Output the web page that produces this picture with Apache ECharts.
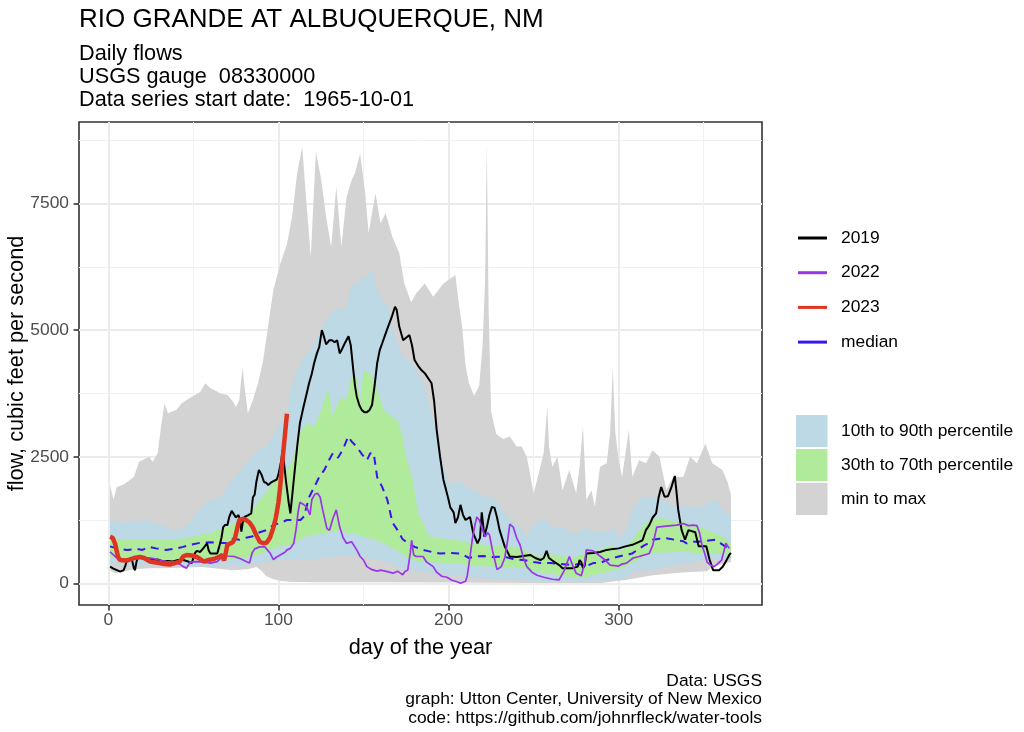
<!DOCTYPE html>
<html>
<head>
<meta charset="utf-8">
<script src="https://cdn.jsdelivr.net/npm/echarts@6/dist/echarts.min.js"></script>
<style>
html,body{margin:0;padding:0;background:#fff;}
#chart{width:1024px;height:732px;}
</style>
</head>
<body>
<div id="chart"></div>
<script>
// ---- data: [day of year, cfs] ----
const flowMax = [[1,1940],[3,1650],[5,1900],[9,1950],[13,2050],[15,2100],[18,2400],[21,2450],[24,2500],[26,2400],[29,2570],[31,3100],[33,3550],[35,3360],[38,3400],[40,3420],[43,3550],[46,3620],[50,3700],[54,3780],[57,3950],[60,3850],[62,3820],[66,3750],[70,3720],[73,3600],[75,3480],[77,3620],[78,4000],[79,4250],[80,3900],[82,3360],[85,3620],[88,3950],[91,4400],[94,5100],[97,5790],[101,6300],[105,6700],[108,7240],[111,8100],[114,8620],[116,7700],[119,6450],[122,8520],[125,8000],[128,7240],[131,6640],[134,7830],[137,6640],[140,7630],[143,7960],[145,8100],[148,8480],[151,7700],[153,6910],[157,7700],[160,7110],[163,7310],[167,6840],[171,6520],[174,5920],[178,5550],[181,5730],[186,5920],[191,5660],[197,5920],[204,6090],[206,5530],[208,5060],[210,4300],[212,3950],[215,3700],[218,3900],[220,4700],[221.5,6000],[222.5,8700],[223.5,5500],[225,3400],[228,2950],[232,2850],[236,2900],[240,2700],[243,2700],[246,2500],[250,1780],[254,2300],[256,2600],[258,3500],[259,2700],[261,2300],[264,2500],[267,1840],[271,2240],[275,1780],[277,2300],[279,3100],[281,1650],[284,1840],[286,1510],[289,2300],[293,2370],[295,3000],[296.5,4250],[298,3000],[300,2430],[302,2100],[306,3030],[308,2100],[312,2430],[316,2370],[320,2630],[324,2500],[328,1840],[332,2100],[338,2100],[342,2500],[346,2370],[351,2760],[355,2370],[361,2240],[364,2000],[366,1750]];

const flowP90 = [[1,1250],[7,1190],[15,1220],[22,1250],[30,1150],[35,1100],[38,1050],[42,1050],[45,1120],[48,1190],[52,1400],[58,1600],[62,1650],[66,1720],[70,1900],[73,2050],[77,2200],[79,2260],[82,2400],[85,2510],[89,2650],[93,2700],[97,2900],[101,3160],[105,3300],[107,3820],[111,4200],[115,4470],[119,4600],[123,4870],[128,5200],[134,5420],[140,5420],[143,5920],[146,5860],[148,6000],[151,6050],[155,6190],[158,5790],[162,5530],[165,5460],[167,5000],[173,4470],[179,4340],[185,3950],[188,3600],[191,3220],[194,2800],[197,2300],[201,1900],[203,2000],[207,2000],[211,1880],[217,1800],[222,1710],[226,1700],[230,1510],[234,1350],[238,1190],[242,1100],[246,920],[250,1150],[254,1250],[257,1250],[261,1110],[267,1100],[273,990],[277,1000],[281,1110],[285,1000],[289,1050],[293,1000],[297,1100],[300,920],[304,990],[308,1450],[312,1650],[315,1710],[320,1710],[326,1650],[332,1510],[338,1550],[344,1480],[348,1510],[352,1580],[357,1650],[360,1510],[363,1400],[366,1330]];

const flowP70 = [[1,920],[5,880],[10,860],[20,860],[30,860],[40,870],[48,900],[54,960],[60,1000],[64,1050],[70,1110],[77,1250],[81,1350],[85,1450],[89,1650],[93,1800],[97,2000],[101,2100],[105,2250],[108,2400],[111,2700],[113,3000],[117,3160],[121,3100],[125,3400],[129,3850],[132,3300],[136,3650],[140,3650],[143,4080],[146,4080],[148,3600],[150,4200],[154,4140],[158,3820],[162,3420],[166,3300],[170,3230],[173,2900],[175,2500],[179,2050],[182,1400],[185,1190],[188,950],[191,920],[197,880],[203,860],[209,820],[214,790],[220,760],[228,730],[235,730],[242,700],[248,600],[254,520],[260,580],[267,540],[273,500],[278,560],[283,640],[289,650],[293,720],[297,730],[300,620],[304,700],[308,850],[312,1050],[316,1190],[320,1250],[324,1300],[328,1250],[333,1230],[338,1230],[343,1150],[348,1110],[352,1050],[357,990],[361,920],[366,790]];

const flowMedian = [[1,730],[6,680],[11,660],[17,680],[20,660],[24,720],[28,690],[34,660],[40,690],[44,720],[48,760],[54,800],[60,810],[65,800],[70,790],[73,880],[77,860],[81,900],[85,930],[89,1010],[93,1050],[97,1150],[101,1190],[105,1250],[109,1250],[113,1250],[115,1320],[118,1700],[121,1900],[124,2100],[127,2240],[130,2450],[132,2570],[135,2480],[138,2650],[141,2900],[143,2800],[146,2700],[149,2550],[152,2430],[154,2570],[156,2570],[158,2100],[161,1900],[164,1650],[167,1200],[170,1050],[173,870],[176,800],[180,720],[185,660],[190,620],[195,590],[200,600],[207,590],[212,500],[216,530],[220,540],[226,520],[232,530],[238,480],[244,460],[250,420],[254,400],[260,400],[266,380],[273,360],[277,380],[281,340],[285,400],[289,400],[293,460],[297,500],[300,530],[304,560],[308,590],[311,660],[315,750],[318,800],[320,860],[324,880],[328,890],[333,860],[338,830],[340,790],[344,820],[350,830],[354,850],[357,860],[360,790],[363,720],[366,660]];

const flowP30 = [[1,530],[8,470],[15,460],[25,450],[34,430],[45,450],[54,460],[65,460],[75,480],[85,530],[92,620],[101,730],[109,780],[116,920],[120,950],[128,990],[136,1050],[140,1000],[145,990],[150,920],[156,860],[160,820],[165,730],[170,640],[175,530],[180,450],[185,420],[193,410],[199,400],[207,380],[215,340],[225,330],[235,320],[242,320],[248,260],[254,220],[261,190],[268,140],[273,120],[281,120],[287,180],[293,220],[297,260],[302,300],[308,400],[313,500],[318,590],[325,610],[332,610],[338,640],[344,600],[350,590],[356,590],[361,580],[366,540]];

const flowP10 = [[1,400],[8,370],[20,350],[34,330],[50,330],[65,330],[73,340],[80,360],[89,400],[95,420],[101,480],[110,470],[120,480],[136,540],[145,560],[155,480],[165,420],[172,300],[179,260],[185,220],[193,200],[199,180],[207,140],[215,110],[225,90],[235,70],[245,60],[260,40],[275,40],[290,60],[300,70],[305,120],[308,230],[314,260],[320,270],[328,330],[336,380],[344,410],[352,460],[359,470],[363,480],[366,500]];

const flowMin = [[1,260],[4,200],[8,230],[15,280],[25,300],[34,300],[45,310],[55,320],[65,290],[73,260],[82,280],[87,320],[90,250],[93,140],[97,80],[101,50],[106,30],[120,20],[150,20],[200,15],[250,5],[290,5],[300,50],[305,70],[310,100],[320,160],[335,210],[345,230],[352,240],[355,330],[359,360],[363,400],[366,420]];

const flow2019 = [[1,330],[3,290],[5,260],[7,230],[9,260],[10,350],[11,460],[13,500],[14,450],[15,300],[15.7,260],[16.5,420],[17.5,530],[20,520],[22.5,500],[26,460],[29,470],[32,430],[35,440],[38,430],[41,460],[44,460],[47,430],[49,400],[50,420],[51,600],[52,640],[54,620],[56,700],[58,790],[59,650],[60,590],[62,590],[64,590],[65,700],[66.5,900],[67.5,1110],[68.5,1150],[70,1150],[71,1300],[72.5,1430],[73.5,1420],[75,1300],[76.5,1350],[77.3,1260],[78.2,1020],[79,1200],[80,1310],[82,1340],[84,1380],[85,1700],[86,1750],[87,2000],[88.5,2240],[90,2150],[91.5,2000],[93,1980],[94,1940],[96,2000],[97,1980],[99,2050],[100,2150],[101.5,2400],[102.5,2630],[103.5,2300],[104.5,2000],[106,1600],[107,1380],[108,1700],[109,2040],[111,2700],[112.6,3160],[114.5,3450],[116.6,3750],[118,3950],[119.6,4140],[121,4350],[122.6,4540],[124,4670],[125.5,5000],[126.5,4900],[128,4720],[130,4800],[131.5,4800],[133,4760],[134.5,4800],[136,4540],[137,4600],[139,4740],[141.2,4880],[142.5,4700],[144,4210],[145,3900],[146,3690],[147.5,3520],[149,3420],[150.5,3380],[152,3380],[153.5,3420],[155,3520],[156.5,3900],[158,4340],[159.5,4600],[161,4740],[163.6,4990],[166.6,5260],[168.5,5460],[169.5,5400],[171,5070],[173.3,4800],[175,4850],[177,4900],[178.5,4700],[180,4410],[182,4300],[184,4210],[186,4150],[187,4120],[189,4000],[190,3950],[191.5,3600],[193,3030],[195,2500],[197,2040],[198.5,1850],[200,1650],[201,1500],[203,1400],[204,1190],[205.5,1300],[207,1550],[208.5,1350],[210,1250],[212.6,1310],[214.5,990],[217,790],[218.5,900],[219.5,1400],[220.5,1100],[221,920],[222.5,1110],[224,1350],[225.5,1510],[227,1490],[228.5,1300],[230,1050],[233,730],[236,530],[240,520],[244,540],[248,560],[251,500],[254,460],[256,500],[257.6,640],[259,500],[261,450],[265,360],[267,300],[270,300],[273,300],[276,330],[277,460],[278,420],[279,300],[280,350],[281,590],[285,600],[289,620],[293,660],[297,680],[300,690],[304,730],[308,760],[312,820],[314,850],[316,1050],[318,1150],[320,1300],[322,1380],[323.5,1700],[325,1900],[327,1710],[329,1720],[331,1900],[333,2120],[334,1800],[335,1450],[337,1050],[339,860],[341,1050],[345,1010],[347,730],[351.5,730],[353.5,460],[355.5,260],[359,260],[361,320],[363,430],[365,560],[366,600]];

const flow2022 = [[1,620],[3,560],[5,500],[8,450],[11,470],[15,500],[20,500],[25,500],[30,460],[34,430],[38,420],[42,380],[44,330],[46,300],[48,420],[52,430],[56,420],[60,400],[64,430],[67,520],[68,560],[70,540],[74,530],[78,480],[81,430],[83,400],[84.5,600],[86,680],[89,720],[92,720],[93,700],[95,600],[97,470],[99,520],[101,560],[104,620],[105,660],[107,690],[109,790],[110.5,1100],[111.5,1400],[112.6,1600],[115,1550],[116.6,1510],[118.5,1350],[119.6,1650],[121.4,1760],[123,1780],[124.5,1700],[126,1450],[128.5,1080],[130,1050],[132,1280],[134,1450],[136,1110],[138,900],[140,790],[143,820],[146,660],[148,530],[150,460],[152,330],[155,270],[158,240],[160,260],[164,230],[167.4,200],[170,240],[171,230],[173,170],[174.5,240],[176,260],[177.5,600],[178.3,850],[179.5,560],[181,530],[185,530],[187,420],[191,330],[193,220],[196,140],[199,120],[202,60],[205,30],[207,0],[210,40],[211,150],[212.5,500],[214,880],[215.5,1150],[216.6,1310],[218,1250],[219.5,1110],[221.5,920],[223,1000],[224,960],[226,620],[228.5,270],[231,330],[233,500],[234.5,800],[236,1170],[238,1110],[240,900],[242,760],[244,500],[246,330],[249,220],[252,160],[256,120],[261,80],[265,70],[268,250],[271,530],[273,350],[275,200],[278,150],[280,400],[281,660],[285,640],[289,540],[292,460],[295,360],[300,340],[302,380],[304.6,400],[308.5,500],[312,530],[315,560],[318,590],[320,750],[321,900],[322.4,1110],[328,1130],[334,1150],[338,1180],[341,1140],[344,1150],[346,1140],[347.5,1000],[349,750],[350.5,600],[352,420],[354,360],[356,330],[358,380],[360.5,460],[362,650],[363,790],[364,760],[365,690]];

const flow2023 = [[1,920],[2.5,900],[4,780],[5,620],[6,500],[7,460],[10,450],[12,460],[15,500],[18.6,520],[21,500],[24.5,430],[28,410],[30,400],[33,380],[36,370],[39,400],[42,430],[44,530],[46,560],[49,550],[52,520],[54,480],[56,430],[59,460],[62,480],[65.6,530],[67,560],[68,450],[69,600],[70,760],[72,790],[73.3,820],[74.5,900],[75.5,1050],[77,1250],[79,1270],[81,1250],[83,1200],[85,1100],[87,950],[89,820],[91,790],[93,800],[95,900],[97,1100],[98.5,1300],[100,1600],[101,1900],[102,2300],[103,2650],[104,3000],[105,3350]];

const xTicks = [0, 100, 200, 300];
const xMinorTicks = [50, 150, 250, 350];
const yTicks = [0, 2500, 5000, 7500];
const yMinorTicks = [1250, 3750, 6250, 8750];
const lineNames = ['2019', '2022', '2023', 'median'];
const bandNames = ['10th to 90th percentile', '30th to 70th percentile', 'min to max'];

// ---- chart ----
const FONT = "'Liberation Sans', Arial, sans-serif";
const C = {
  gray: '#d3d3d3', blue: '#bcd9e5', green: '#b0ea9b',
  y2019: '#000000', y2022: '#9b35ea', y2023: '#e03422', median: '#3a14f0'
};

function bandSeries(name, upper, lower, color) {
  return {
    type: 'custom', name: name, silent: true, clip: true,
    itemStyle: { color: color },
    data: [[upper[0][0], upper[0][1]]],
    renderItem: function (params, api) {
      const pts = upper.map(function (p) { return api.coord(p); })
        .concat(lower.slice().reverse().map(function (p) { return api.coord(p); }));
      return { type: 'polygon', shape: { points: pts }, style: { fill: color } };
    }
  };
}

function lineSeries(name, data, color, width, dash, z) {
  return {
    type: 'line', name: name, data: data, showSymbol: false, symbol: 'none',
    silent: true, z: z,
    itemStyle: { color: color },
    lineStyle: { color: color, width: width, type: dash ? [8, 6] : 'solid' }
  };
}

const chart = echarts.init(document.getElementById('chart'), null, { renderer: 'canvas' });

const xRange = { min: -17.25, max: 384.25 };
const yRange = { min: -428, max: 9109 };
const plainNumber = function (v) { return String(v); };

const option = {
  animation: false,
  backgroundColor: '#ffffff',
  textStyle: { fontFamily: FONT },
  title: [
    { text: 'RIO GRANDE AT ALBUQUERQUE, NM', left: 79, top: 7, padding: 0,
      textStyle: { fontFamily: FONT, fontSize: 26, fontWeight: 'normal', color: '#000' } },
    { text: 'Daily flows\nUSGS gauge  08330000\nData series start date:  1965-10-01', left: 79, top: 42, padding: 0,
      textStyle: { fontFamily: FONT, fontSize: 21.7, lineHeight: 23.3, fontWeight: 'normal', color: '#000' } }
  ],
  grid: {
    left: 79, top: 122, width: 683, height: 483,
    show: true, borderColor: '#333333', borderWidth: 1.6, backgroundColor: '#ffffff',
    outerBoundsMode: 'none', containLabel: false
  },
  legend: [
    { data: lineNames, orient: 'vertical', left: 798, top: 228, padding: 0,
      itemWidth: 29, itemHeight: 3, itemGap: 14.7, icon: 'rect', selectedMode: false,
      itemStyle: { borderWidth: 0 },
      textStyle: { fontFamily: FONT, fontSize: 17.4, lineHeight: 20, color: '#000', padding: [0, 0, 0, 9] } },
    { data: bandNames, orient: 'vertical', left: 796, top: 415, padding: 0,
      itemWidth: 31.5, itemHeight: 32, itemGap: 2, icon: 'rect', selectedMode: false,
      itemStyle: { borderWidth: 0 },
      textStyle: { fontFamily: FONT, fontSize: 17.4, color: '#000', padding: [0, 0, 0, 8.5] } }
  ],
  xAxis: [
    { type: 'value', min: xRange.min, max: xRange.max, gridIndex: 0, position: 'bottom',
      axisLine: { show: false, onZero: false },
      axisTick: { show: true, length: 5.4, customValues: xTicks, lineStyle: { color: '#333', width: 1.6 } },
      axisLabel: { customValues: xTicks, color: '#4d4d4d', fontSize: 17.4, margin: 7, fontFamily: FONT, formatter: plainNumber },
      splitLine: { show: true, lineStyle: { color: '#ebebeb', width: 2 } },
      name: 'day of the year', nameLocation: 'middle', nameGap: 32, nameMoveOverlap: false,
      nameTextStyle: { fontFamily: FONT, fontSize: 21.7, color: '#000' } },
    { type: 'value', min: xRange.min, max: xRange.max, gridIndex: 0, position: 'top',
      axisLine: { show: false, onZero: false }, axisLabel: { show: false },
      axisTick: { show: false, customValues: xMinorTicks },
      splitLine: { show: true, lineStyle: { color: '#f1f1f1', width: 1 } } }
  ],
  yAxis: [
    { type: 'value', min: yRange.min, max: yRange.max, gridIndex: 0, position: 'left',
      axisLine: { show: false, onZero: false },
      axisTick: { show: true, length: 5.4, customValues: yTicks, lineStyle: { color: '#333', width: 1.6 } },
      axisLabel: { customValues: yTicks, color: '#4d4d4d', fontSize: 17.4, margin: 10, fontFamily: FONT, formatter: plainNumber },
      splitLine: { show: true, lineStyle: { color: '#ebebeb', width: 2 } },
      name: 'flow, cubic feet per second', nameLocation: 'middle', nameGap: 51, nameRotate: 90, nameMoveOverlap: false,
      nameTextStyle: { fontFamily: FONT, fontSize: 21.7, color: '#000' } },
    { type: 'value', min: yRange.min, max: yRange.max, gridIndex: 0, position: 'right',
      axisLine: { show: false, onZero: false }, axisLabel: { show: false },
      axisTick: { show: false, customValues: yMinorTicks },
      splitLine: { show: true, lineStyle: { color: '#f1f1f1', width: 1 } } }
  ],
  graphic: [
    { type: 'text', x: 762, y: 672, silent: true,
      style: { text: 'Data: USGS\ngraph: Utton Center, University of New Mexico\ncode: https://github.com/johnrfleck/water-tools',
        align: 'right', verticalAlign: 'top', fill: '#000', font: "17.4px 'Liberation Sans', Arial, sans-serif", lineHeight: 18.3 } }
  ],
  series: [
    bandSeries('min to max', flowMax, flowMin, C.gray),
    bandSeries('10th to 90th percentile', flowP90, flowP10, C.blue),
    bandSeries('30th to 70th percentile', flowP70, flowP30, C.green),
    lineSeries('median', flowMedian, C.median, 2, true, 3),
    lineSeries('2019', flow2019, C.y2019, 2, false, 4),
    lineSeries('2022', flow2022, C.y2022, 1.7, false, 5),
    lineSeries('2023', flow2023, C.y2023, 4.5, false, 6)
  ]
};
chart.setOption(option);
</script>
</body>
</html>
